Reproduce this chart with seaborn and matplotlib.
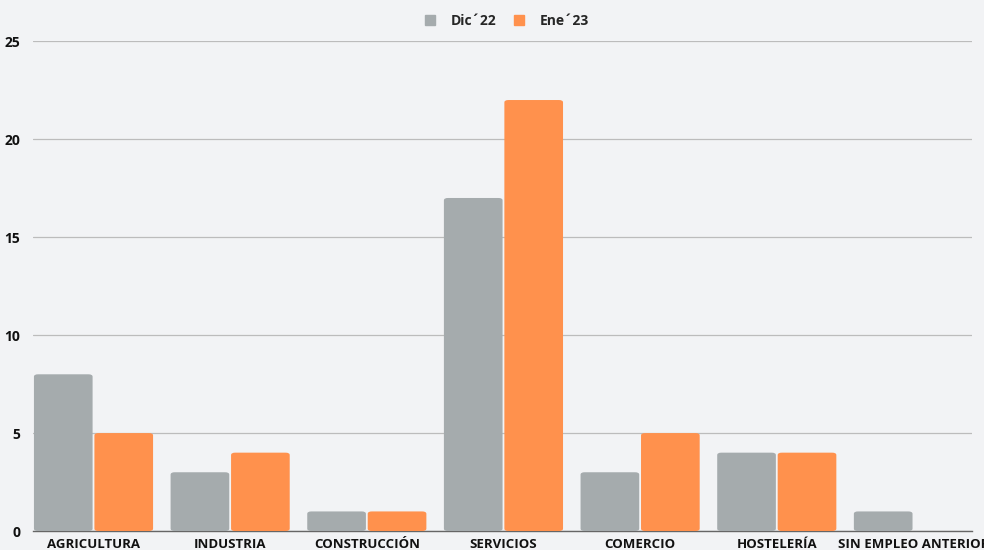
import matplotlib
matplotlib.use("Agg")
import matplotlib.pyplot as plt
import seaborn as sns
import pandas as pd
from matplotlib.patches import FancyBboxPatch

categories = ["AGRICULTURA", "INDUSTRIA", "CONSTRUCCIÓN", "SERVICIOS",
              "COMERCIO", "HOSTELERÍA", "SIN EMPLEO ANTERIOR"]
series_names = ["Dic´22", "Ene´23"]
dic22 = [8, 3, 1, 17, 3, 4, 1]
ene23 = [5, 4, 1, 22, 5, 4, 0]
yticks = [0, 5, 10, 15, 20, 25]

df = pd.DataFrame({
    "cat": categories * 2,
    "serie": [series_names[0]] * len(categories) + [series_names[1]] * len(categories),
    "val": dic22 + ene23,
})

bg = "#f2f3f5"
colors = ["#a5abad", "#ff914d"]

sns.set_theme(style="white")
plt.rcParams["font.family"] = ["Open Sans", "DejaVu Sans"]

fig = plt.figure(figsize=(9.84, 5.5), dpi=100, facecolor=bg)
ax = fig.add_axes([0.0335, 0.0345, 0.9545, 0.8905])
ax.set_facecolor(bg)

sns.barplot(data=df, x="cat", y="val", hue="serie", palette=colors,
            width=0.885, gap=0.03, ax=ax, saturation=1, legend=False)

# rounded corners
for p in list(ax.patches):
    x, y = p.get_x(), p.get_y()
    w, h = p.get_width(), p.get_height()
    if h <= 0:
        p.set_visible(False)
        continue
    fc = p.get_facecolor()
    p.set_visible(False)
    rp = FancyBboxPatch((x, y), w, h, boxstyle="round,pad=0,rounding_size=0.03",
                        mutation_aspect=4, facecolor=fc,
                        edgecolor="none", zorder=3)
    ax.add_patch(rp)

ax.set_ylim(0, 25)
ax.set_xlim(-0.443, 6.43)
ax.set_yticks(yticks)
ax.yaxis.grid(True, color="#bcbcbc", linewidth=0.9, zorder=0)
ax.set_axisbelow(True)
for s in ["top", "right", "left"]:
    ax.spines[s].set_visible(False)
ax.spines["bottom"].set_color("#666666")
ax.spines["bottom"].set_linewidth(1.0)
ax.set_xlabel("")
ax.set_ylabel("")
ax.tick_params(axis="both", length=0, labelsize=9.5, colors="#111111")
ax.tick_params(axis="y", pad=9, labelsize=10)
ax.tick_params(axis="x", pad=5)
for t in ax.get_xticklabels() + ax.get_yticklabels():
    t.set_fontweight("bold")

handles = [plt.Line2D([0], [0], marker="s", linestyle="none", markersize=7,
                      markerfacecolor=c, markeredgecolor=c) for c in colors]
ax.legend(handles, series_names, loc="upper center", bbox_to_anchor=(0.5, 1.081),
          ncol=2, frameon=False, prop={"weight": "bold", "size": 10},
          handletextpad=0.5, columnspacing=0.6)

fig.savefig("out.png", dpi=100, facecolor=bg)
